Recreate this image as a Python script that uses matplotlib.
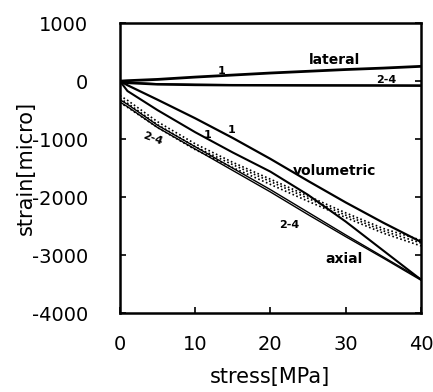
import numpy as np
import matplotlib
matplotlib.use("Agg")
import matplotlib.pyplot as plt

plt.rcParams["axes.unicode_minus"] = False

# --- data (stress in MPa, strain in micro) ---
stress = [0, 1, 5, 10, 15, 20, 25, 30, 35, 40]

# lateral strain
lateral_load1 = [0, 8, 30, 70, 105, 140, 170, 200, 225, 255]
lateral_unload1 = [0, -30, -55, -65, -70, -72, -74, -75, -76, -78]
lateral_cyc24 = [0, -20, -45, -55, -62, -66, -68, -70, -72, -74]

# volumetric strain
vol_load1 = [0, -70, -320, -640, -980, -1340, -1720, -2090, -2440, -2770]
vol_cyc2 = [-250, -330, -700, -1080, -1400, -1690, -1980, -2270, -2540, -2740]
vol_cyc3 = [-300, -380, -750, -1130, -1440, -1730, -2020, -2310, -2580, -2790]
vol_cyc4 = [-370, -450, -800, -1180, -1490, -1780, -2070, -2350, -2620, -2840]

# axial strain
axial_load1 = [0, -170, -500, -880, -1230, -1560, -1960, -2420, -2920, -3420]
axial_cyc2 = [-320, -400, -760, -1130, -1500, -1870, -2260, -2650, -3030, -3410]
axial_cyc4 = [-360, -440, -800, -1170, -1540, -1910, -2300, -2680, -3050, -3430]

xticks = [0, 10, 20, 30, 40]
yticks = [1000, 0, -1000, -2000, -3000, -4000]

fig = plt.figure(figsize=(4.33, 3.92), dpi=100)
ax = fig.add_axes([0.277, 0.201, 0.695, 0.74])

# lateral
ax.plot(stress, lateral_load1, color="black", lw=2.0)
ax.plot(stress, lateral_unload1, color="black", lw=1.8)
ax.plot(stress, lateral_cyc24, color="black", lw=1.0)

# volumetric
ax.plot(stress, vol_load1, color="black", lw=1.6)
for v in (vol_cyc2, vol_cyc3, vol_cyc4):
    ax.plot(stress, v, color="black", lw=1.2, ls=(0, (1, 1.5)))

# axial
ax.plot(stress, axial_load1, color="black", lw=1.5)
ax.plot(stress, axial_cyc2, color="black", lw=1.0)
ax.plot(stress, axial_cyc4, color="black", lw=1.0)

# curve labels
bold = dict(fontsize=10, fontweight="bold", color="black", ha="center", va="center")
small = dict(fontsize=8, fontweight="bold", color="black", ha="center", va="center")
ax.text(28.5, 365, "lateral", **bold)
ax.text(28.5, -1545, "volumetric", **bold)
ax.text(29.8, -3070, "axial", **bold)
ax.text(13.5, 170, "1", **small)
ax.text(11.7, -920, "1", **small)
ax.text(14.8, -850, "1", **small)
ax.text(4.3, -990, "2-4", rotation=-20, **small)
ax.text(22.5, -2480, "2-4", **small)
ax.text(35.4, 20, "2-4", **small)

ax.set_xlim(0, 40)
ax.set_ylim(-4000, 1000)
ax.set_xticks(xticks)
ax.set_yticks(yticks)
ax.tick_params(direction="in", length=4, width=1.2, labelsize=14, right=True)
ax.tick_params(axis="x", pad=16)
ax.tick_params(axis="y", pad=23)
for s in ax.spines.values():
    s.set_linewidth(1.8)

ax.set_xlabel("stress[MPa]", fontsize=15)
ax.set_ylabel("strain[micro]", fontsize=15)
ax.xaxis.set_label_coords(0.5, -0.186)
ax.yaxis.set_label_coords(-0.28, 0.5)

fig.savefig("out.png", dpi=100)
